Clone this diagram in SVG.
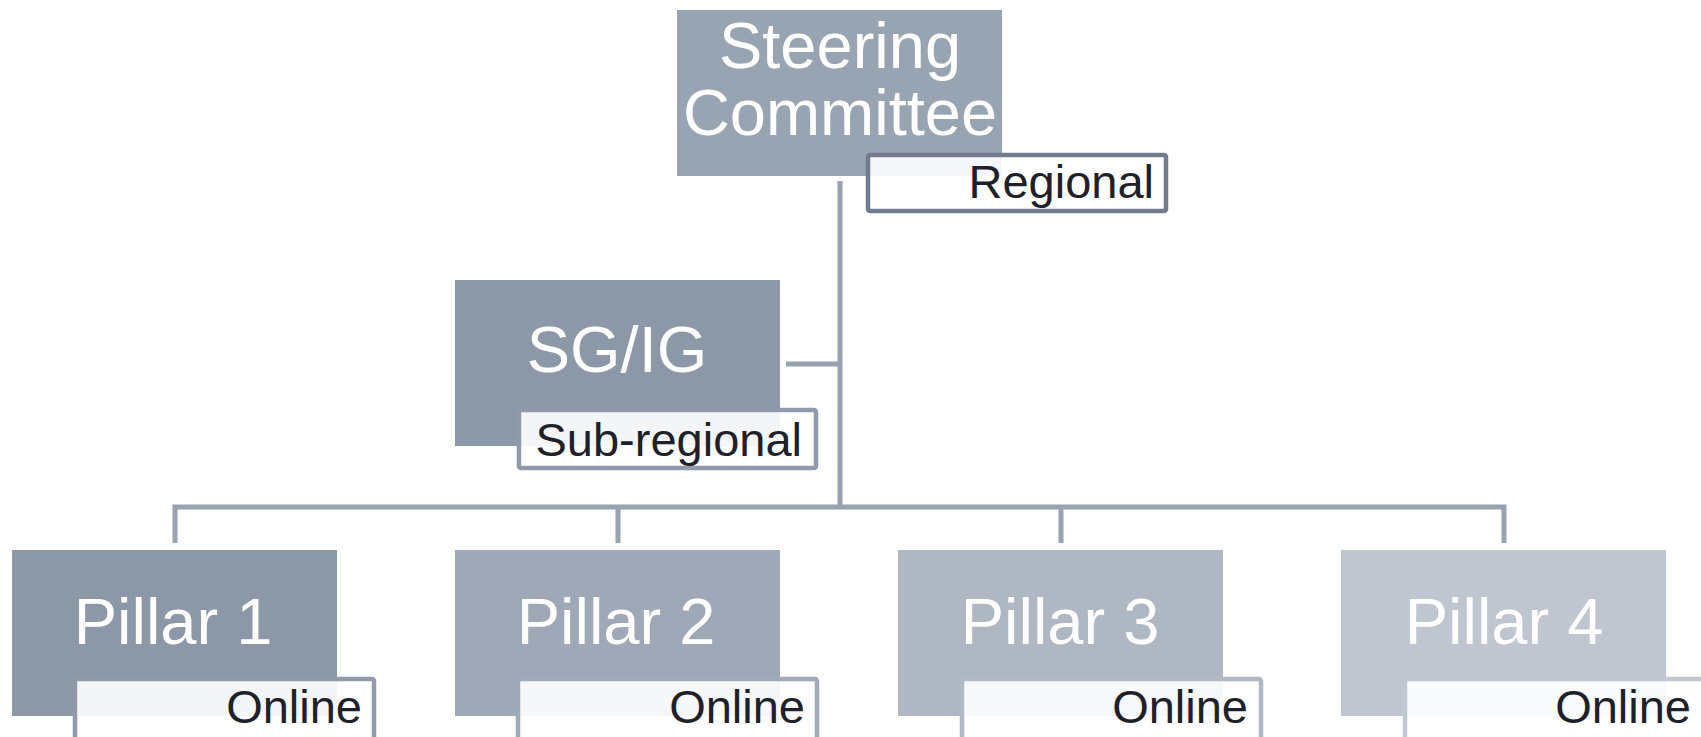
<svg xmlns="http://www.w3.org/2000/svg" width="1701" height="737" viewBox="0 0 1701 737">
<style>
.big{font-family:"Liberation Sans",Arial,sans-serif;font-size:65px;fill:#ffffff;text-anchor:middle}
.lab{font-family:"Liberation Sans",Arial,sans-serif;font-size:47px;fill:#1e2129;text-anchor:end}
.lbox{fill:#ffffff;fill-opacity:0.9;stroke-width:4.5}
.conn{fill:none;stroke:#98a2b0;stroke-width:5}
</style>
<rect width="1701" height="737" fill="#ffffff"/>
<g id="connectors">
<line class="conn" x1="840" y1="181" x2="840" y2="507"/>
<line class="conn" x1="786" y1="364" x2="840" y2="364"/>
<path class="conn" d="M175,543 V507 H1504 V543"/>
<line class="conn" x1="618" y1="507" x2="618" y2="543"/>
<line class="conn" x1="1061" y1="507" x2="1061" y2="543"/>
</g>
<g id="steering">
<rect x="677" y="10" width="325" height="166" fill="#99a4b2"/>
<text class="big" x="840" y="68">Steering</text>
<text class="big" x="840" y="135">Committee</text>
<rect class="lbox" x="868" y="155" width="298" height="56" rx="2" stroke="#717c8e"/>
<text class="lab" x="1154" y="198">Regional</text>
</g>
<g id="sgig">
<rect x="455" y="280" width="325" height="166" fill="#8c97a8"/>
<text class="big" x="617" y="372">SG/IG</text>
<rect class="lbox" x="519" y="410" width="297" height="58" rx="2" stroke="#8f9aab"/>
<text class="lab" x="802" y="456">Sub-regional</text>
</g>
<g id="pillar1">
<rect x="12" y="550" width="325" height="166" fill="#8c97a8"/>
<text class="big" x="173" y="644">Pillar 1</text>
<rect class="lbox" x="75" y="679" width="299" height="62" rx="2" stroke="#8f9aab"/>
<text class="lab" x="362" y="723">Online</text>
</g>
<g id="pillar2">
<rect x="455" y="550" width="325" height="166" fill="#9ea8b6"/>
<text class="big" x="616" y="644">Pillar 2</text>
<rect class="lbox" x="518" y="679" width="299" height="62" rx="2" stroke="#a0aab8"/>
<text class="lab" x="805" y="723">Online</text>
</g>
<g id="pillar3">
<rect x="898" y="550" width="325" height="166" fill="#afb7c3"/>
<text class="big" x="1060" y="644">Pillar 3</text>
<rect class="lbox" x="962" y="679" width="299" height="62" rx="2" stroke="#b1b9c5"/>
<text class="lab" x="1248" y="723">Online</text>
</g>
<g id="pillar4">
<rect x="1341" y="550" width="325" height="166" fill="#c0c6d0"/>
<text class="big" x="1504" y="644">Pillar 4</text>
<rect class="lbox" x="1405" y="679" width="299" height="62" rx="2" stroke="#c1c7d1"/>
<text class="lab" x="1691" y="723">Online</text>
</g>
</svg>
